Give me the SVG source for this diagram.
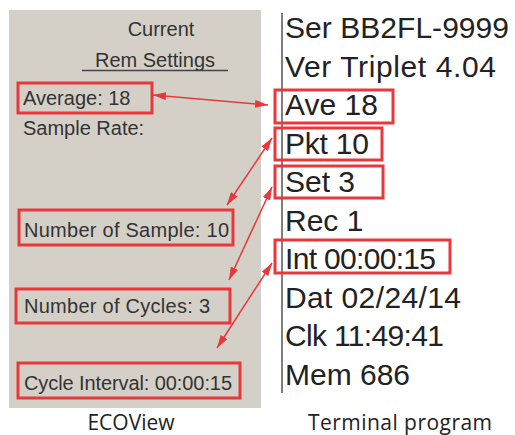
<svg xmlns="http://www.w3.org/2000/svg" width="515" height="435" viewBox="0 0 515 435">
  <style>
    .ui { font-family: "Liberation Sans", Arial, sans-serif; font-size: 20px; fill: #333; }
    .term { font-family: "Liberation Sans", Arial, sans-serif; font-size: 30px; fill: #222; }
    .cap { font-family: "Open Sans", "Liberation Sans", sans-serif; font-size: 21px; fill: #222; text-anchor: middle; }
    .hl { fill: none; stroke: #e8383c; stroke-width: 3; }
    .conn { fill: none; stroke: #e8383c; stroke-width: 1.5; marker-start: url(#ah); marker-end: url(#ah); }
  </style>
  <defs>
    <marker id="ah" viewBox="0 0 13 8" refX="13" refY="4" markerWidth="13" markerHeight="8" markerUnits="userSpaceOnUse" orient="auto-start-reverse">
      <path d="M0,0 L13,4 L0,8 Z" fill="#e8383c"/>
    </marker>
  </defs>
  <rect width="515" height="435" fill="#ffffff"/>

  <g id="ecoview-panel">
    <rect x="9" y="10" width="252" height="398" fill="#d4d0c8"/>
    <text class="ui" x="161" y="36" text-anchor="middle">Current</text>
    <text class="ui" x="155" y="67" text-anchor="middle">Rem Settings</text>
    <line x1="82" y1="70.5" x2="228" y2="70.5" stroke="#444" stroke-width="1.5"/>
    <text class="ui" x="23" y="135">Sample Rate:</text>
  </g>

  <g id="average">
    <rect class="hl" x="18" y="83" width="134" height="30"/>
    <text class="ui" x="23" y="105">Average: 18</text>
  </g>
  <g id="num-sample">
    <rect class="hl" x="19" y="210" width="214" height="35"/>
    <text class="ui" x="24" y="237" textLength="205">Number of Sample: 10</text>
  </g>
  <g id="num-cycles">
    <rect class="hl" x="16" y="289" width="214" height="34"/>
    <text class="ui" x="24" y="313" textLength="186">Number of Cycles: 3</text>
  </g>
  <g id="cycle-interval">
    <rect class="hl" x="18" y="363" width="222" height="35"/>
    <text class="ui" x="24" y="390" textLength="208">Cycle Interval: 00:00:15</text>
  </g>

  <g id="terminal">
    <line x1="282" y1="13" x2="282" y2="393" stroke="#555" stroke-width="1.5"/>
    <text class="term" x="285" y="38" textLength="224">Ser BB2FL-9999</text>
    <text class="term" x="285" y="77" textLength="211">Ver Triplet 4.04</text>
    <text class="term" x="285" y="231">Rec 1</text>
    <text class="term" x="285" y="308" textLength="176">Dat 02/24/14</text>
    <text class="term" x="285" y="346" textLength="159">Clk 11:49:41</text>
    <text class="term" x="285" y="385">Mem 686</text>
  </g>
  <g id="ave">
    <rect class="hl" x="275" y="90" width="118" height="33"/>
    <text class="term" x="285" y="115">Ave 18</text>
  </g>
  <g id="pkt">
    <rect class="hl" x="275" y="128" width="107" height="32"/>
    <text class="term" x="285" y="154" textLength="84">Pkt 10</text>
  </g>
  <g id="set">
    <rect class="hl" x="275" y="166" width="108" height="32"/>
    <text class="term" x="285" y="192">Set 3</text>
  </g>
  <g id="int">
    <rect class="hl" x="275" y="240" width="175" height="33"/>
    <text class="term" x="285" y="269" textLength="151">Int 00:00:15</text>
  </g>

  <g id="captions">
    <text class="cap" x="131" y="430">ECOView</text>
    <text class="cap" x="400" y="430" textLength="184">Terminal program</text>
  </g>

  <g id="connectors">
    <path class="conn" d="M153,95 L268,105"/>
    <path class="conn" d="M272,138 L227,205"/>
    <path class="conn" d="M272,187 L229,280"/>
    <path class="conn" d="M272,263 L217,348"/>
  </g>
</svg>
